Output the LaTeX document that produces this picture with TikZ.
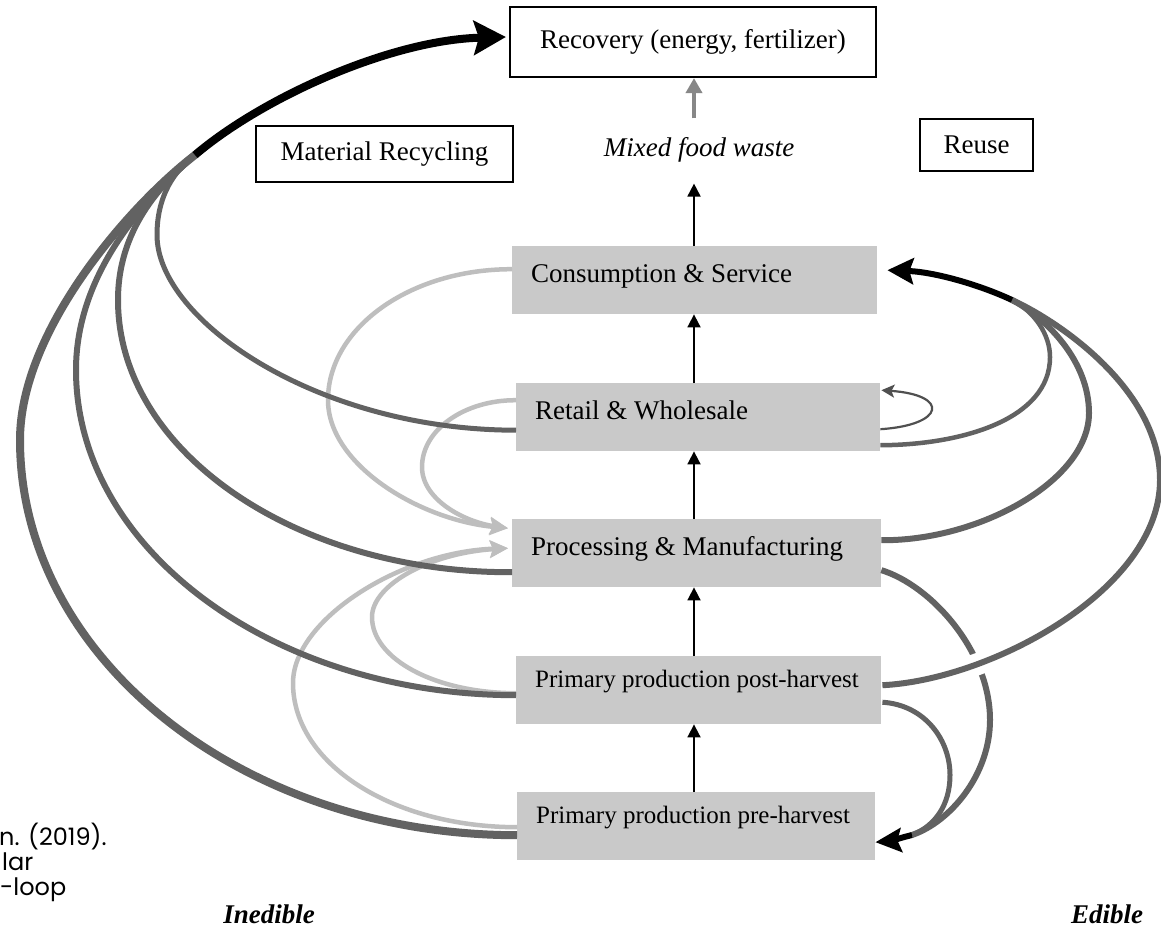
\documentclass[tikz,border=0pt]{standalone}
\usepackage{fontspec}
\setmainfont{Liberation Serif}
\newfontfamily\citefont{Poppins}
\usetikzlibrary{arrows.meta,calc}
\definecolor{boxgray}{RGB}{201,201,201}
\definecolor{darkarc}{RGB}{98,98,98}
\definecolor{lightarc}{RGB}{190,190,190}
\definecolor{midgray}{RGB}{135,135,135}
\definecolor{loopgray}{RGB}{80,80,80}
\begin{document}
\begin{tikzpicture}[x=1pt,y=-1pt,
  wbox/.style={draw=black, line width=2.2pt, fill=white, inner sep=0pt, font=\fontsize{27}{32}\selectfont},
  gbox/.style={anchor=north west, fill=boxgray, inner xsep=19pt, inner ysep=0pt, text height=36pt, text depth=32pt, font=\fontsize{27}{32}\selectfont},
  gboxs/.style={gbox, text height=31pt, text depth=37pt, font=\fontsize{25}{30}\selectfont},
  darc/.style={draw=darkarc, line width=6pt},
  larc/.style={draw=lightarc, line width=4.5pt, -{Stealth[length=18pt,width=17pt,inset=3pt]}},
  blk/.style={draw=black, line width=6pt},
  varrow/.style={draw=black, line width=1.8pt, -{Triangle[length=13pt,width=13pt]}},
  side/.style={inner sep=0pt, font=\bfseries\itshape\fontsize{27}{32}\selectfont},
  cite/.style={font=\citefont\fontsize{24}{28}\selectfont, anchor=base west, inner sep=0pt}
]
\useasboundingbox[fill=white] (0,0) rectangle (1161,929);

% ---------- nodes ----------
\node[wbox, minimum width=366pt, minimum height=70pt] (rec) at (693,42) {Recovery (energy, fertilizer)};
\node[wbox, minimum width=257pt, minimum height=56pt] (mat) at (384.5,154) {Material Recycling};
\node[wbox, minimum width=113pt, minimum height=52pt] (reuse) at (976.5,145) {Reuse};
\node[inner sep=0pt, font=\itshape\fontsize{27}{32}\selectfont] (mix) at (699,150) {Mixed food waste};

\coordinate (X) at (694,0);
\coordinate (J) at (195,155);
\coordinate (K) at (1012,300);
\coordinate (M) at (912,835);

\node[gbox, minimum width=365pt] (cons) at (512,246) {\makebox[327pt][l]{Consumption \& Service}};
\node[gbox, minimum width=364pt] (ret) at (516,383) {\makebox[326pt][l]{Retail \& Wholesale}};
\node[gbox, minimum width=369pt] (proc) at (512,519) {\makebox[331pt][l]{Processing \& Manufacturing}};
\node[gboxs, minimum width=365pt] (post) at (516,656) {\makebox[327pt][l]{Primary production post-harvest}};
\node[gboxs, minimum width=358pt] (pre) at (517,792) {\makebox[320pt][l]{Primary production pre-harvest}};

\coordinate (Pu) at ($(proc.west)+(-4,-25)$);
\coordinate (Pl) at ($(proc.west)+(-4,-5)$);

% ---------- light arcs (to Processing) ----------
\draw[larc] ($(cons.west)+(0,-11)$) .. controls (410,269) and (328,328) .. (328,400)
  .. controls (328,465) and (420,520) .. (Pu);
\draw[larc] ($(ret.west)+(0,-17)$) .. controls (464,400) and (422,430) .. (422,467)
  .. controls (422,500) and (465,522) .. (Pu);
\draw[larc] ($(post.west)+(0,3)$) .. controls (435,693) and (372,659) .. (372,617)
  .. controls (372,585) and (430,553) .. (Pl);
\draw[larc] ($(pre.west)+(0,1)$) .. controls (391,827) and (293,763) .. (293,683)
  .. controls (293,620) and (400,552) .. (Pl);

% ---------- dark arcs (to Recovery) ----------
\draw[darc, line width=8pt] ($(pre.west)+(0,9)$) .. controls (242,835) and (20,658) .. (20,440)
  .. controls (20,330) and (130,205) .. (J);
\draw[darc] ($(post.west)+(0,5)$) .. controls (273,695) and (76,549) .. (76,370)
  .. controls (76,270) and (150,195) .. (J);
\draw[darc] ($(proc.west)+(0,19)$) .. controls (295,573) and (118,451) .. (118,300)
  .. controls (118,230) and (160,185) .. (J);
\draw[darc, line width=5pt] ($(ret.west)+(0,13)$) .. controls (317,430) and (157,320) .. (157,235)
  .. controls (157,195) and (175,170) .. (J);
\draw[blk, line width=8pt, -{Stealth[length=32pt,width=34pt,inset=5pt]}]
  (J) .. controls (262,98) and (390,40) .. ($(rec.west)+(-3,-5)$);

% ---------- dark arcs (to Consumption, reuse) ----------
\draw[darc, line width=4.5pt] ($(ret.east)+(0,28)$) .. controls (960,445) and (1050,420) .. (1050,357)
  .. controls (1050,335) and (1035,312) .. (K);
\draw[darc] ($(proc.east)+(0,-13)$) .. controls (980,541) and (1089,480) .. (1089,413)
  .. controls (1089,360) and (1045,317) .. (K);

% Processing -> pre-harvest
\draw[darc] ($(proc.east)+(0,17)$) .. controls (930,585) and (990,650) .. (990,720)
  .. controls (990,775) and (950,822) .. (M);

% post-harvest -> consumption (white gap where it crosses)
\draw[white, line width=22pt] ($(post.east)+(1,-5)$) .. controls (990,680) and (1160,590) .. (1160,480);
\draw[darc] ($(post.east)+(1,-5)$) .. controls (990,680) and (1160,590) .. (1160,480)
  .. controls (1160,390) and (1060,322) .. (K);

\draw[blk, -{Stealth[length=26pt,width=26pt,inset=4pt]}]
  (K) .. controls (980,285) and (935,272) .. ($(cons.east)+(10,-10)$);

% post-harvest -> pre-harvest
\draw[darc, line width=5pt] ($(post.east)+(1,12)$) .. controls (925,705) and (950,740) .. (950,775)
  .. controls (950,805) and (935,826) .. (M);
\draw[blk, -{Stealth[length=26pt,width=24pt,inset=4pt]}]
  (M) .. controls (900,838) and (890,841) .. ($(pre.east)+(0,16)$);

% retail self loop
\draw[draw=loopgray, line width=2.2pt, -{Stealth[length=13pt,width=13pt,inset=3pt]}]
  ($(ret.east)+(0,12)$) .. controls (945,425) and (950,395) .. ($(ret.east)+(1,-27)$);

% ---------- vertical flow arrows ----------
\draw[varrow] (X |- pre.north) -- (X |- post.south);
\draw[varrow] (X |- post.north) -- (X |- proc.south);
\draw[varrow] (X |- proc.north) -- (X |- ret.south);
\draw[varrow] (X |- ret.north) -- (X |- cons.south);
\draw[varrow] (X |- cons.north) -- ($(X |- mix.south)+(0,21)$);
\draw[draw=midgray, line width=4pt, -{Triangle[length=15pt,width=16pt]}] ($(X |- mix.north)+(0,-19)$) -- (X |- rec.south);

% ---------- side labels ----------
\node[side] (ined) at (269,914) {Inedible};
\node[side] (edib) at (1107,914) {Edible};

\node[cite] (c1) at (-1,845) {n. (2019).};
\node[cite] (c2) at (2,870) {lar};
\node[cite] (c3) at (0,895) {-loop};
\end{tikzpicture}
\end{document}
